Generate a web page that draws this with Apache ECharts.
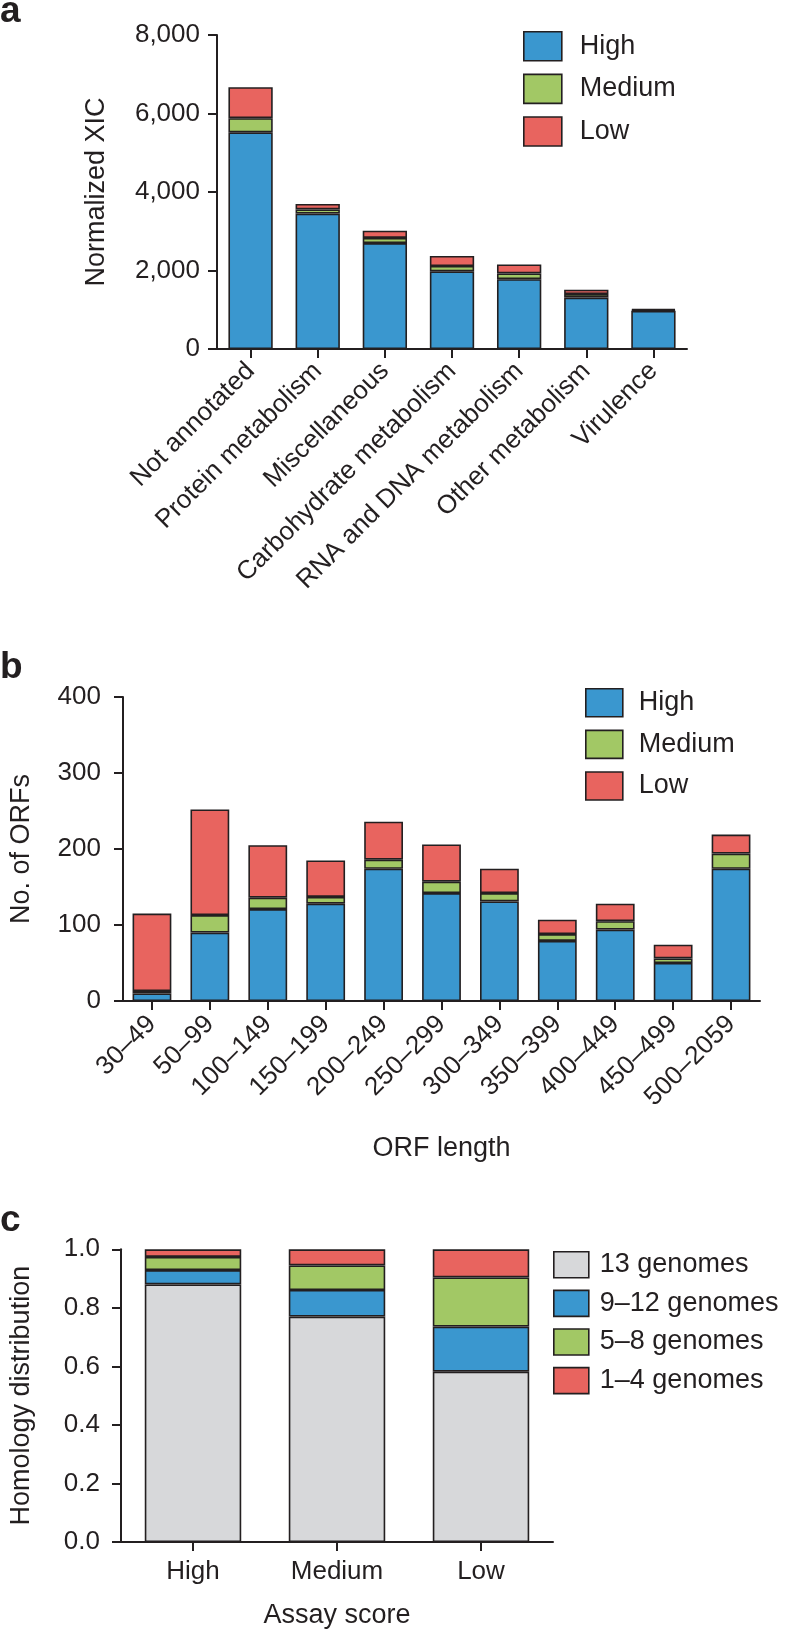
<!DOCTYPE html>
<html>
<head>
<meta charset="utf-8">
<script src="https://cdn.jsdelivr.net/npm/echarts@6/dist/echarts.min.js"></script>
<style>
html,body{margin:0;padding:0;background:#fff;}
#chart{width:788px;height:1630px;}
</style>
</head>
<body>
<div id="chart"></div>
<script>
// ---- Panel a data ----
var catsA = ['Not annotated','Protein metabolism','Miscellaneous','Carbohydrate metabolism','RNA and DNA metabolism','Other metabolism','Virulence'];
var aHigh   = [5520, 3450, 2700, 1980, 1780, 1310, 970];
var aMedium = [360, 105, 130, 135, 145, 90, 20];
var aLow    = [790, 140, 185, 255, 230, 110, 30];
var ticksA = [0, 2000, 4000, 6000, 8000];

// ---- Panel b data ----
var catsB = ['30\u201349','50\u201399','100\u2013149','150\u2013199','200\u2013249','250\u2013299','300\u2013349','350\u2013399','400\u2013449','450\u2013499','500\u20132059'];
var bHigh   = [10, 90, 121, 128, 174, 142, 131, 79, 94, 50, 174];
var bMedium = [3, 23, 15, 9, 12, 15, 11, 9, 11, 6, 20];
var bLow    = [102, 139, 69, 48, 50, 49, 32, 19, 23, 18, 25];
var ticksB = [0, 100, 200, 300, 400];

// ---- Panel c data ----
var catsC = ['High','Medium','Low'];
var c13   = [0.880, 0.770, 0.582];
var c9_12 = [0.049, 0.091, 0.154];
var c5_8  = [0.045, 0.084, 0.168];
var c1_4  = [0.026, 0.055, 0.096];
var ticksC = [0.0, 0.2, 0.4, 0.6, 0.8, 1.0];

var BLUE = '#3a97cf', GREEN = '#a2c865', RED = '#e8645f', GRAY = '#d7d8da';
var INK = '#231f20';
var FONT = '"Liberation Sans", Arial, Helvetica, sans-serif';

var chart = echarts.init(document.getElementById('chart'), null, {renderer: 'canvas'});

function axisCommon() {
  return {
    axisLine: {show: true, lineStyle: {color: INK, width: 2}},
    axisTick: {show: true, length: 9, lineStyle: {color: INK, width: 2}},
    splitLine: {show: false}
  };
}
function xCat(idx, data, labelOpt, name, nameGap) {
  var o = axisCommon();
  o.type = 'category';
  o.gridIndex = idx;
  o.data = data;
  o.axisTick.alignWithLabel = true;
  o.axisTick.interval = 0;
  o.axisLabel = Object.assign({interval: 0, color: INK, fontFamily: FONT, fontSize: 26}, labelOpt);
  if (name) {
    o.name = name; o.nameLocation = 'middle'; o.nameGap = nameGap;
    o.nameTextStyle = {color: INK, fontFamily: FONT, fontSize: 27};
  }
  return o;
}
function yVal(idx, ticks, fmt, margin, name, nameGap) {
  var o = axisCommon();
  o.type = 'value';
  o.gridIndex = idx;
  o.min = ticks[0];
  o.max = ticks[ticks.length - 1];
  o.interval = ticks[1] - ticks[0];
  o.axisLabel = {color: INK, fontFamily: FONT, fontSize: 26, margin: margin, formatter: fmt};
  o.name = name; o.nameLocation = 'middle'; o.nameGap = nameGap; o.nameRotate = 90;
  o.nameTextStyle = {color: INK, fontFamily: FONT, fontSize: 27};
  return o;
}
function bar(name, data, color, xi, stack, gap) {
  return {
    type: 'bar', name: name, data: data, xAxisIndex: xi, yAxisIndex: xi, stack: stack,
    barCategoryGap: gap,
    itemStyle: {color: color, borderColor: INK, borderWidth: 1.6},
    emphasis: {disabled: true}, animation: false
  };
}
function legend(names, left, top, w, h, gap, pad) {
  return {
    data: names, orient: 'vertical', left: left, top: top, padding: 0,
    itemWidth: w, itemHeight: h, itemGap: gap, icon: 'rect', selectedMode: false,
    itemStyle: {borderColor: INK, borderWidth: 1.6},
    textStyle: {color: INK, fontFamily: FONT, fontSize: 27, lineHeight: h, padding: [0, 0, 0, pad]}
  };
}

var option = {
  backgroundColor: '#fff',
  animation: false,
  grid: [
    {left: 217, top: 35, width: 470, height: 314},
    {left: 114, top: 697, width: 646, height: 304},
    {left: 114, top: 1249.3, width: 439, height: 292.7}
  ],
  xAxis: [
    xCat(0, catsA, {rotate: 45, margin: 18}),
    xCat(1, catsB, {rotate: 45, margin: 19}, 'ORF length', 134),
    xCat(2, catsC, {margin: 17}, 'Assay score', 60)
  ],
  yAxis: [
    yVal(0, ticksA, function (v) { return v.toLocaleString('en-US'); }, 17, 'Normalized XIC', 107),
    yVal(1, ticksB, function (v) { return String(v); }, 22, 'No. of ORFs', 88),
    yVal(2, ticksC, function (v) { return v.toFixed(1); }, 21, 'Homology distribution', 86)
  ],
  legend: [
    legend(['High', 'Medium', 'Low'], 523, 31, 38, 29, 12, 13),
    legend(['High', 'Medium', 'Low'], 585, 688, 37, 28, 12, 11),
    legend(['13 genomes', '9\u201312 genomes', '5\u20138 genomes', '1\u20134 genomes'], 553, 1251, 35, 26, 11, 6)
  ],
  graphic: [
    {type: 'text', left: 0, top: -7, style: {text: 'a', font: 'bold 37px ' + FONT, fill: INK}},
    {type: 'text', left: 0, top: 649, style: {text: 'b', font: 'bold 37px ' + FONT, fill: INK}},
    {type: 'text', left: 0, top: 1202, style: {text: 'c', font: 'bold 37px ' + FONT, fill: INK}}
  ],
  series: [
    bar('High', aHigh, BLUE, 0, 'a', '34%'),
    bar('Medium', aMedium, GREEN, 0, 'a', '34%'),
    bar('Low', aLow, RED, 0, 'a', '34%'),
    bar('High', bHigh, BLUE, 1, 'b', '33%'),
    bar('Medium', bMedium, GREEN, 1, 'b', '33%'),
    bar('Low', bLow, RED, 1, 'b', '33%'),
    bar('13 genomes', c13, GRAY, 2, 'c', '33%'),
    bar('9\u201312 genomes', c9_12, BLUE, 2, 'c', '33%'),
    bar('5\u20138 genomes', c5_8, GREEN, 2, 'c', '33%'),
    bar('1\u20134 genomes', c1_4, RED, 2, 'c', '33%')
  ]
};
chart.setOption(option);
</script>
</body>
</html>
